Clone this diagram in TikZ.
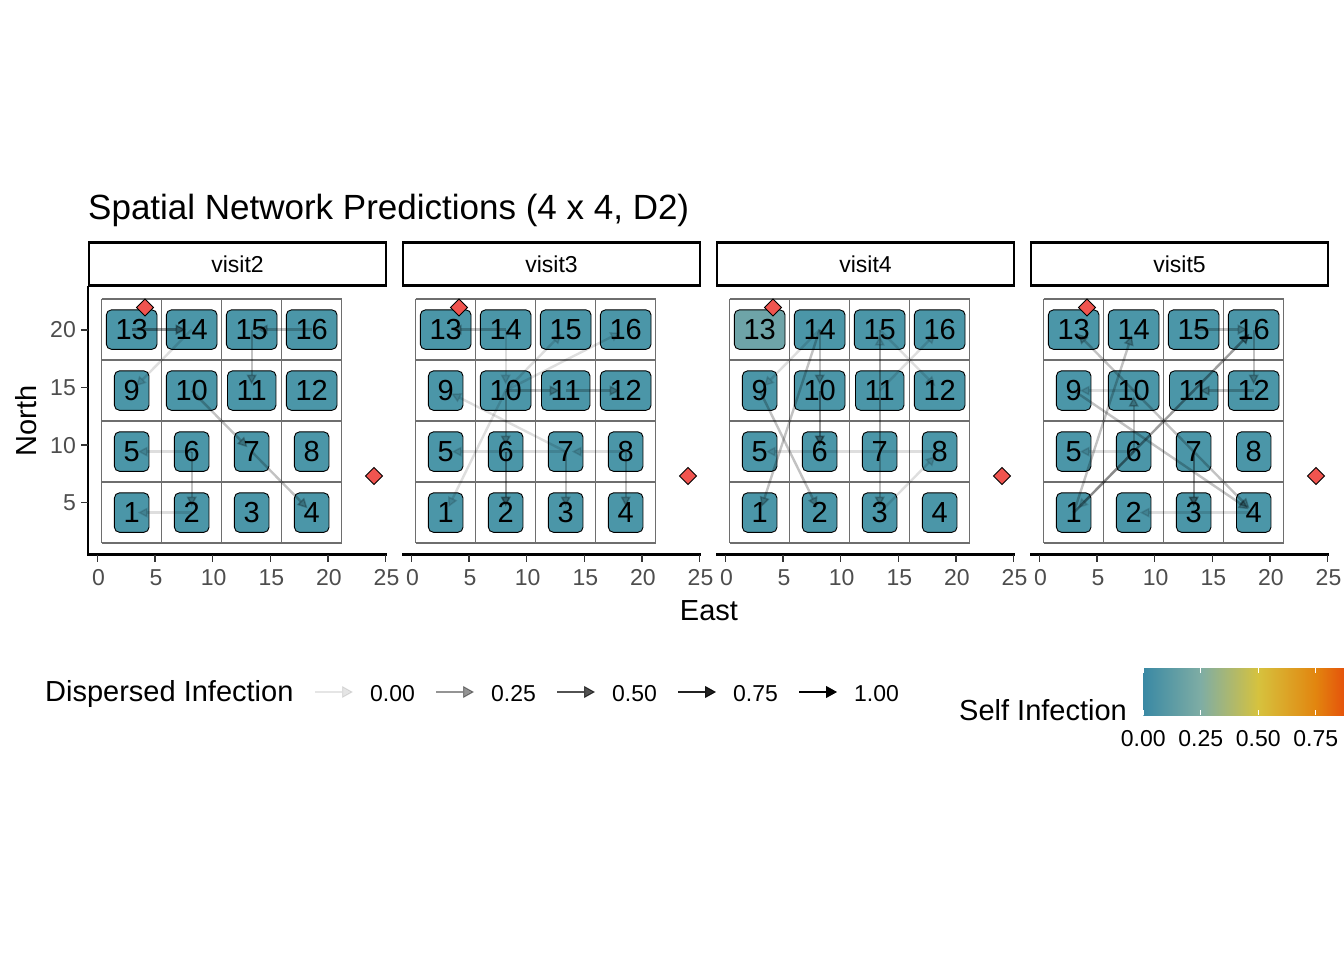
\documentclass[tikz,border=0pt]{standalone}
\usepackage{fontspec}
\setmainfont{Liberation Sans}
\usetikzlibrary{arrows.meta}
\definecolor{nodefill}{HTML}{4B96A8}
\definecolor{nodefillL}{HTML}{6EA4A8}
\definecolor{diam}{HTML}{F0544F}
\definecolor{gridc}{HTML}{6E6E6E}
\definecolor{tickc}{HTML}{333333}
\definecolor{ticklab}{HTML}{4D4D4D}
\definecolor{cbA}{HTML}{3A89A4}
\definecolor{cbB}{HTML}{7FADA4}
\definecolor{cbC}{HTML}{D6C23E}
\definecolor{cbD}{HTML}{E2850F}
\definecolor{cbE}{HTML}{E5530B}
\pgfdeclarelayer{paper}
\pgfdeclarelayer{bg}
\pgfdeclarelayer{edgelayer}
\pgfsetlayers{paper,bg,edgelayer,main}
\newcommand\fsz[1]{\fontsize{#1}{#1}\selectfont}
\begin{document}
\begin{tikzpicture}[x=1pt,y=-1pt,
 lab/.style={font=\fsz{29}, inner xsep=9pt, inner ysep=0pt, minimum height=39pt},
 nbox/.style={draw=black, line width=0.9pt, rounded corners=5pt},
 edge/.style={draw=black, line width=2.4pt, -{Triangle[length=10pt,width=10pt,fill=black,line width=1.5pt]}, shorten >=6pt},
 e1/.style={opacity=0.13}, e2/.style={opacity=0.24}, e3/.style={opacity=0.38},
 gridl/.style={draw=gridc, line width=1.2pt},
 axisl/.style={draw=black, line width=2.2pt},
 tickl/.style={draw=tickc, line width=1.5pt},
 ticklabel/.style={font=\fsz{23}, text=ticklab, inner sep=0pt},
 legtext/.style={font=\fsz{23}, text=black, inner sep=0pt},
 bigtext/.style={font=\fsz{29}, text=black, inner sep=0pt},
 diamondmark/.style={draw=black, fill=diam, line width=0.9pt},
 stripbox/.style={draw=black, fill=white, line width=2.2pt},
 legarrow/.style={draw=black, line width=2.4pt, -{Triangle[length=11pt,width=12pt,fill=black,line width=1pt]}},
]
\useasboundingbox (0,0) rectangle (1344,960);
\begin{pgfonlayer}{paper}
\fill[white] (0,0) rectangle (1344,960);
\end{pgfonlayer}

% title
\node[font=\fsz{35}, anchor=base west, inner sep=0pt] (title) at (88,220) {Spatial Network Predictions (4 x 4, D2)};

% panels
\foreach \p/\s in {0/visit2,1/visit3,2/visit4,3/visit5}{
  \pgfmathsetmacro\dx{314*\p}
  \begin{scope}[xshift=\dx pt]
    % strip
    \draw[stripbox] (89,242.5) rectangle (386,285.5);
    \node[legtext] (strip\p) at (237.5,264) {\s};
    % grid
    \begin{pgfonlayer}{paper}
    \foreach \i in {0,...,4}{
      \draw[gridl] (101.7+60*\i,299) -- (101.7+60*\i,543);
    }
    \foreach \yy in {299,360,421,482,543}{
      \draw[gridl] (101.7,\yy) -- (341.7,\yy);
    }
    \end{pgfonlayer}
    % bottom axis
    \draw[axisl] (88,554.5) -- (386.5,554.5);
    \foreach \i/\t in {0/0,1/5,2/10,3/15,4/20,5/25}{
      \draw[tickl] (97.5+57.6*\i,554.5) -- (97.5+57.6*\i,561.5);
      \node[ticklabel, anchor=base] (xt\p-\i) at (98.5+57.6*\i,585) {\t};
    }
    % diamonds
    \draw[diamondmark] (145,299) -- (153.5,307.5) -- (145,316) -- (136.5,307.5) -- cycle;
    \draw[diamondmark] (374,467.5) -- (382.5,476) -- (374,484.5) -- (365.5,476) -- cycle;
  \end{scope}
  % nodes
  \foreach \n in {1,...,16}{
    \pgfmathtruncatemacro\cc{mod(\n-1,4)}
    \pgfmathtruncatemacro\rr{3-int((\n-1)/4)}
    \node[lab] (p\p n\n) at (131.7+60*\cc+\dx,329.6+61*\rr) {\n};
    \ifnum\p=2 \ifnum\n=13
      \begin{pgfonlayer}{bg}\draw[nbox,fill=nodefillL] (p\p n\n.south west) rectangle (p\p n\n.north east);\end{pgfonlayer}
    \else
      \begin{pgfonlayer}{bg}\draw[nbox,fill=nodefill] (p\p n\n.south west) rectangle (p\p n\n.north east);\end{pgfonlayer}
    \fi\else
      \begin{pgfonlayer}{bg}\draw[nbox,fill=nodefill] (p\p n\n.south west) rectangle (p\p n\n.north east);\end{pgfonlayer}
    \fi
  }
}

% left axis
\draw[axisl] (88,286) -- (88,555.6);
\foreach \i/\t in {0/5,1/10,2/15,3/20}{
  \draw[tickl] (81,502.7-57.6*\i) -- (88,502.7-57.6*\i);
  \node[ticklabel, anchor=east] (yt\i) at (76,502.7-57.6*\i) {\t};
}
\node[bigtext, rotate=90] (ylab) at (26,421) {North};
\node[bigtext, anchor=base] (xlab) at (709,620) {East};

% edges
\begin{pgfonlayer}{edgelayer}
\foreach \a/\b/\st in {13/14/e3, 14/9/e1, 15/11/e2, 16/15/e2, 10/7/e2, 7/4/e2, 6/5/e1, 6/2/e2, 2/1/e1}{
  \draw[edge,\st] (p0n\a.center) -- (p0n\b.center);
}
\foreach \a/\b/\st in {14/13/e2, 14/10/e1, 10/6/e2, 6/2/e3, 10/15/e1, 10/16/e1, 10/11/e2, 11/12/e2, 7/9/e1, 8/7/e1, 7/5/e1, 10/1/e1, 7/3/e2, 8/4/e2}{
  \draw[edge,\st] (p1n\a.center) -- (p1n\b.center);
}
\foreach \a/\b/\st in {14/9/e1, 14/1/e2, 14/10/e2, 10/6/e3, 9/2/e2, 15/12/e1, 15/3/e2, 7/15/e1, 11/16/e1, 8/5/e1, 3/8/e1}{
  \draw[edge,\st] (p2n\a.center) -- (p2n\b.center);
}
\foreach \a/\b/\st in {10/13/e2, 10/4/e2, 9/4/e2, 1/14/e2, 1/16/e3, 15/16/e2, 16/12/e2, 12/11/e2, 10/9/e1, 6/10/e2, 6/5/e1, 7/3/e3, 4/2/e1, 6/1/e1}{
  \draw[edge,\st] (p3n\a.center) -- (p3n\b.center);
}
\end{pgfonlayer}

% legend: dispersed infection
\node[bigtext, anchor=base west] (legtitle) at (45,701.5) {Dispersed Infection};
\foreach \i/\t/\o in {0/0.00/0.1, 1/0.25/0.42, 2/0.50/0.68, 3/0.75/0.87, 4/1.00/1}{
  \coordinate (la\i) at (315+121*\i,692);
  \coordinate (lb\i) at (353+121*\i,692);
  \draw[legarrow, opacity=\o] (la\i) -- (lb\i);
  \node[legtext, anchor=base west] (ll\i) at (370+121*\i,701.5) {\t};
}

% legend: self infection
\node[bigtext, anchor=base west] (cbtitle) at (959,720) {Self Infection};
\shade[left color=cbA, right color=cbB] (1143.3,668.3) rectangle (1200.8,715);
\shade[left color=cbB, right color=cbC] (1200.7,668.3) rectangle (1258.3,715);
\shade[left color=cbC, right color=cbD] (1258.2,668.3) rectangle (1315.8,715);
\shade[left color=cbD, right color=cbE] (1315.7,668.3) rectangle (1344,715);
\foreach \i/\t in {0/0.00,1/0.25,2/0.50,3/0.75}{
  \draw[white, line width=1pt] (1143.3+57.5*\i,668.3) -- (1143.3+57.5*\i,673);
  \draw[white, line width=1pt] (1143.3+57.5*\i,710) -- (1143.3+57.5*\i,715);
  \node[legtext, anchor=base] (cbl\i) at (1143.3+57.5*\i,746.7) {\t};
}
\end{tikzpicture}
\end{document}
